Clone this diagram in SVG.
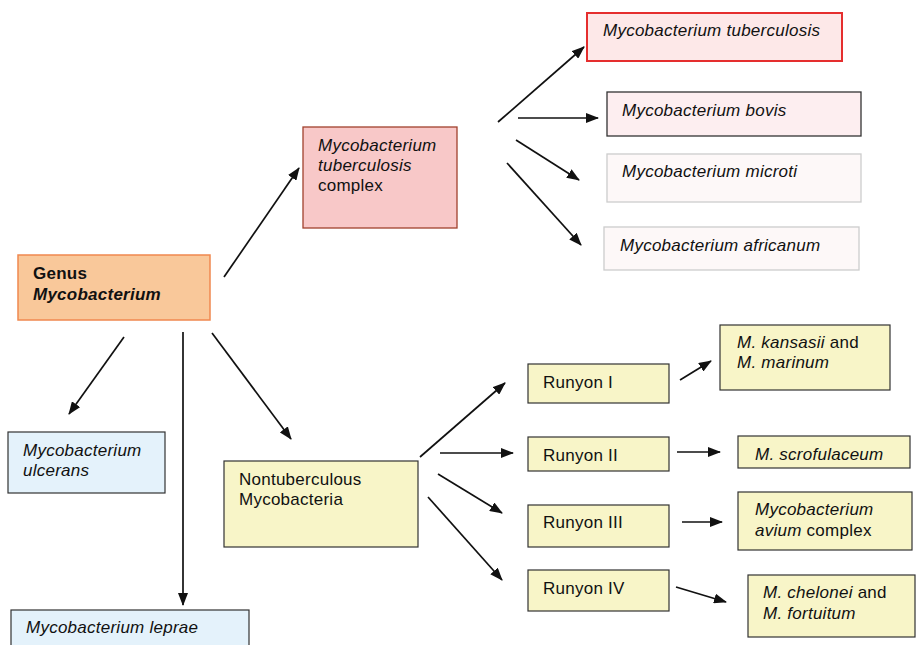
<svg xmlns="http://www.w3.org/2000/svg" width="916" height="645" viewBox="0 0 916 645">
<defs>
<style>
text{font-family:"Liberation Sans",Arial,sans-serif;font-size:17px;letter-spacing:0.25px;fill:#111}
.i{font-style:italic}
.b{font-weight:bold}
.ln{stroke:#111;stroke-width:1.7;fill:none;marker-end:url(#ah)}
.yl{fill:#f8f5c8;stroke:#333;stroke-width:1.2}
.bl{fill:#e4f2fb;stroke:#333;stroke-width:1.2}
</style>
<marker id="ah" viewBox="0 0 13 10" refX="12" refY="5" markerWidth="13" markerHeight="10" markerUnits="userSpaceOnUse" orient="auto">
<path d="M0,0 L13,5 L0,10 Z" fill="#111"/>
</marker>
</defs>
<rect width="916" height="645" fill="#fff"/>
<g id="connectors">
<line class="ln" x1="224" y1="277" x2="299" y2="168"/>
<line class="ln" x1="498" y1="122" x2="584" y2="47"/>
<line class="ln" x1="518" y1="118" x2="598" y2="118"/>
<line class="ln" x1="516" y1="140" x2="579" y2="180"/>
<line class="ln" x1="507" y1="163" x2="581" y2="245"/>
<line class="ln" x1="124" y1="337" x2="69" y2="414"/>
<line class="ln" x1="183" y1="332" x2="183" y2="605"/>
<line class="ln" x1="212" y1="333" x2="291" y2="439"/>
<line class="ln" x1="420" y1="457" x2="505" y2="383"/>
<line class="ln" x1="440" y1="453" x2="513" y2="453"/>
<line class="ln" x1="438" y1="474" x2="502" y2="513"/>
<line class="ln" x1="428" y1="497" x2="502" y2="580"/>
<line class="ln" x1="680" y1="380" x2="711" y2="361"/>
<line class="ln" x1="677" y1="452" x2="720" y2="452"/>
<line class="ln" x1="682" y1="522" x2="722" y2="522"/>
<line class="ln" x1="676" y1="587" x2="726" y2="602"/>
</g>
<g id="genus">
<rect x="18" y="255" width="192" height="65" fill="#f9c89a" stroke="#f0884f" stroke-width="1.5"/>
<text x="33" y="279" class="b">Genus</text>
<text x="33" y="300" class="b i">Mycobacterium</text>
</g>
<g id="mtbc">
<rect x="303" y="127" width="154" height="101" fill="#f8c8c8" stroke="#a0412d" stroke-width="1.3"/>
<text x="318" y="151" class="i">Mycobacterium</text>
<text x="318" y="171" class="i">tuberculosis</text>
<text x="318" y="191">complex</text>
</g>
<g id="tuberculosis">
<rect x="587" y="13" width="255" height="48" fill="#fde8e8" stroke="#e52e2e" stroke-width="2"/>
<text x="603" y="36" class="i">Mycobacterium tuberculosis</text>
</g>
<g id="bovis">
<rect x="607" y="92" width="254" height="44" fill="#fdeef0" stroke="#333" stroke-width="1.3"/>
<text x="622" y="116" class="i">Mycobacterium bovis</text>
</g>
<g id="microti">
<rect x="607" y="154" width="254" height="48" fill="#fdf8f8" stroke="#ccc" stroke-width="1.3"/>
<text x="622" y="177" class="i">Mycobacterium microti</text>
</g>
<g id="africanum">
<rect x="604" y="227" width="255" height="43" fill="#fdf8f8" stroke="#ccc" stroke-width="1.3"/>
<text x="620" y="251" class="i">Mycobacterium africanum</text>
</g>
<g id="ulcerans">
<rect class="bl" x="8" y="432" width="157" height="61"/>
<text x="23" y="456" class="i">Mycobacterium</text>
<text x="23" y="476" class="i">ulcerans</text>
</g>
<g id="leprae">
<rect class="bl" x="11" y="610" width="238" height="45"/>
<text x="26" y="633" class="i">Mycobacterium leprae</text>
</g>
<g id="ntm">
<rect class="yl" x="224" y="461" width="194" height="86"/>
<text x="239" y="485">Nontuberculous</text>
<text x="239" y="505">Mycobacteria</text>
</g>
<g id="runyon1">
<rect class="yl" x="528" y="364" width="141" height="39"/>
<text x="543" y="388">Runyon I</text>
</g>
<g id="runyon2">
<rect class="yl" x="528" y="437" width="141" height="34"/>
<text x="543" y="461">Runyon II</text>
</g>
<g id="runyon3">
<rect class="yl" x="528" y="505" width="141" height="42"/>
<text x="543" y="528">Runyon III</text>
</g>
<g id="runyon4">
<rect class="yl" x="528" y="570" width="141" height="41"/>
<text x="543" y="594">Runyon IV</text>
</g>
<g id="kansasii">
<rect class="yl" x="720" y="325" width="170" height="65"/>
<text x="737" y="348"><tspan class="i">M. kansasii</tspan> and</text>
<text x="737" y="368" class="i">M. marinum</text>
</g>
<g id="scrofulaceum">
<rect class="yl" x="738" y="436" width="172" height="32"/>
<text x="755" y="460" class="i">M. scrofulaceum</text>
</g>
<g id="mac">
<rect class="yl" x="738" y="492" width="174" height="58"/>
<text x="755" y="515" class="i">Mycobacterium</text>
<text x="755" y="536"><tspan class="i">avium</tspan> complex</text>
</g>
<g id="chelonei">
<rect class="yl" x="748" y="575" width="167" height="62"/>
<text x="763" y="598"><tspan class="i">M. chelonei</tspan> and</text>
<text x="763" y="619" class="i">M. fortuitum</text>
</g>
</svg>
